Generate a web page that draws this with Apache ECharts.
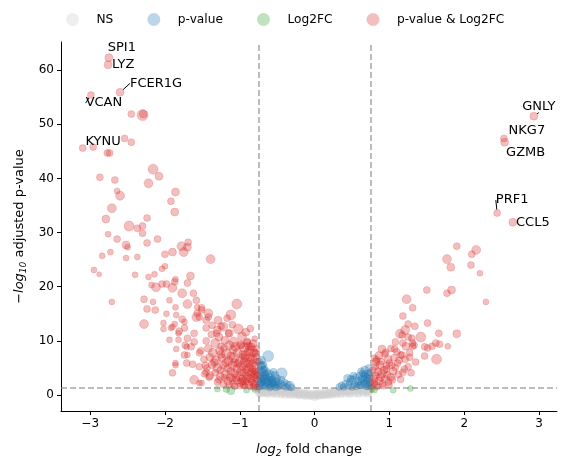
<!DOCTYPE html>
<html>
<head>
<meta charset="utf-8">
<script src="https://cdn.jsdelivr.net/npm/echarts@6/dist/echarts.min.js"></script>
<style>
  html, body { margin: 0; padding: 0; background: #fff; }
  #chart { width: 567px; height: 469px; }
</style>
</head>
<body>
<div id="chart"></div>
<script>
// each point: [log2 fold change, -log10 adjusted p-value, marker size]
var nsPoints = [
  [-0.74,0.9,8],[-0.72,0.5,8],[-0.70,1.1,8],[-0.68,0.7,8],[-0.66,1.2,8],[-0.64,0.4,8],[-0.62,0.9,8],[-0.60,1.2,8],
  [-0.58,0.6,8],[-0.56,1.0,8],[-0.54,0.4,8],[-0.52,0.8,8],[-0.50,1.2,8],[-0.48,0.5,8],[-0.46,0.9,8],[-0.44,0.3,8],
  [-0.42,0.7,8],[-0.40,1.1,8],[-0.38,0.4,8],[-0.36,0.8,8],[-0.34,0.2,8],[-0.32,0.6,8],[-0.30,1.0,8],[-0.28,0.3,8],
  [-0.26,0.6,8],[-0.24,0.2,8],[-0.22,0.5,8],[-0.20,0.1,8],[-0.18,0.4,8],[-0.15,0.2,8],[-0.12,0.0,8],[-0.10,0.3,8],
  [-0.07,0.1,8],[-0.04,-0.1,8],[-0.02,0.2,8],[0.01,0.0,8],[0.03,0.3,8],[0.06,0.1,8],[0.09,0.3,8],[0.12,0.1,8],
  [0.15,0.4,8],[0.18,0.2,8],[0.21,0.5,8],[0.24,0.3,8],[0.27,0.6,8],[0.30,0.4,8],[0.33,0.8,8],[0.36,0.5,8],
  [0.39,1.0,8],[0.42,0.6,8],[0.45,1.1,8],[0.48,0.7,8],[0.51,1.2,8],[0.54,0.8,8],[0.57,0.5,8],[0.60,1.0,8],
  [0.63,0.7,8],[0.66,1.2,8],[0.69,0.9,8],[0.72,0.6,8],[0.74,1.1,8],
  [-0.73,0.2,7],[-0.69,0.3,7],[-0.63,0.2,7],[-0.57,0.2,7],[-0.51,0.1,7],[-0.45,0.1,7],[-0.39,0.0,7],[-0.33,0.0,7],
  [-0.27,0.0,7],[-0.21,-0.1,7],[-0.14,-0.2,7],[-0.08,-0.2,7],[0.00,-0.3,8],[0.05,-0.2,7],[0.11,-0.1,7],[0.17,-0.1,7],
  [0.23,0.0,7],[0.29,0.1,7],[0.35,0.1,7],[0.41,0.2,7],[0.47,0.2,7],[0.53,0.3,7],[0.59,0.2,7],[0.65,0.3,7],[0.71,0.2,7],
  [-0.75,0.5,8],[-0.71,0.8,8],[-0.67,0.5,8],[-0.61,0.6,8],[-0.55,0.7,8],[-0.49,0.8,8],[-0.43,0.6,8],[-0.37,0.6,8],
  [-0.31,0.4,8],[-0.25,0.4,8],[-0.19,0.2,8],[-0.13,0.3,8],[-0.06,0.0,8],[0.02,0.1,8],[0.08,0.0,8],[0.14,0.2,8],
  [0.20,0.3,8],[0.26,0.4,8],[0.32,0.5,8],[0.38,0.7,8],[0.44,0.8,8],[0.50,0.9,8],[0.56,1.0,8],[0.62,0.9,8],
  [0.68,0.6,8],[0.73,0.8,8],[-0.58,0.9,8],[-0.46,1.2,8],[0.46,0.4,8],[0.58,1.2,8]
];

var pvalPoints = [
  [-0.74,1.5,7],[-0.73,2.2,8],[-0.72,3.0,8],[-0.74,3.8,8],[-0.73,4.6,7],[-0.72,5.4,8],[-0.74,6.2,7],[-0.71,5.4,9],
  [-0.62,7.2,11],[-0.70,1.8,8],[-0.69,2.7,8],[-0.68,3.5,8],[-0.70,4.2,8],[-0.67,4.8,7],[-0.66,1.6,7],[-0.65,2.3,8],
  [-0.64,3.1,8],[-0.66,3.8,7],[-0.62,1.9,8],[-0.61,2.7,8],[-0.60,3.4,7],[-0.63,4.3,7],[-0.58,1.6,7],[-0.57,2.3,8],
  [-0.56,3.0,7],[-0.59,3.8,8],[-0.54,1.8,7],[-0.52,2.5,8],[-0.50,3.1,7],[-0.53,3.6,8],[-0.48,1.6,7],[-0.46,2.1,8],
  [-0.44,4.0,11],[-0.44,2.8,7],[-0.42,1.7,7],[-0.40,2.3,7],[-0.38,1.5,7],[-0.36,2.0,7],[-0.33,1.7,9],[-0.31,1.4,7],
  [-0.75,2.6,7],[-0.68,5.6,7],[-0.71,6.4,8],[-0.55,4.3,7],[-0.49,2.4,7],[-0.60,1.4,7],[-0.52,1.4,7],
  [-0.73,1.8,8],[-0.71,2.4,8],[-0.70,3.3,8],[-0.69,4.6,8],[-0.67,3.0,8],[-0.65,4.1,7],[-0.63,2.5,8],[-0.60,2.1,8],
  [-0.58,2.9,7],[-0.55,2.2,7],[-0.51,1.9,7],
  [0.33,1.5,7],[0.36,1.8,7],[0.39,1.5,7],[0.41,2.1,7],[0.44,3.1,8],[0.45,1.7,7],[0.47,2.4,7],[0.50,1.5,7],
  [0.51,2.8,8],[0.53,2.0,7],[0.55,3.3,7],[0.56,1.6,7],[0.58,2.5,8],[0.60,3.6,7],[0.61,1.8,7],[0.63,2.9,8],
  [0.64,4.0,7],[0.66,2.2,7],[0.67,4.6,8],[0.68,3.4,8],[0.69,1.6,7],[0.70,2.6,7],[0.71,3.9,8],[0.72,1.9,7],
  [0.73,3.0,8],[0.74,2.3,7],[0.74,4.2,7],[0.72,5.0,7],[0.75,1.5,6],[0.52,3.6,7],[0.62,4.4,7],[0.48,3.0,7],
  [0.70,3.2,8],[0.68,2.1,8],[0.65,3.0,8],[0.62,2.4,7],[0.73,3.6,8],[0.71,1.6,7],[0.59,1.9,7],[0.66,3.8,7]
];

var fcPoints = [
  [-1.30,1.1,6],[-1.18,1.1,7],[-1.12,0.8,8],[-0.91,0.9,6],[-0.80,1.0,6],
  [0.77,1.1,6],[0.80,0.9,6],[1.05,0.9,6],[1.28,1.2,6]
];

var bothLeft = [
  [-2.45,51.9,7],[-2.30,51.7,11],[-2.29,51.9,8],
  [-3.10,45.6,7],[-2.54,47.4,7],[-2.45,46.7,7],[-2.77,44.7,7],[-2.74,44.7,7],
  [-2.16,41.7,10],[-2.08,40.4,8],[-2.87,40.2,7],[-2.67,39.7,7],[-2.22,39.1,9],[-1.86,37.5,8],[-2.64,37.7,6],
  [-2.60,36.8,9],[-1.92,35.8,7],[-1.87,33.8,8],[-2.71,34.5,9],[-2.79,32.5,8],[-2.24,32.7,7],[-2.48,31.2,10],
  [-2.37,30.8,7],[-2.30,31.2,7],[-2.30,29.9,7],[-2.76,29.7,6],[-2.64,28.8,7],[-2.24,28.1,7],[-2.10,28.8,7],
  [-2.52,27.7,8],[-2.50,27.3,6],[-1.69,28.2,7],[-1.78,27.5,9],[-1.70,27.3,8],[-1.75,26.4,9],[-1.90,26.4,8],
  [-2.00,26.0,7],[-1.39,25.1,9],[-2.73,26.4,6],[-2.84,25.7,6],[-2.52,25.3,6],[-2.37,25.5,6],[-2.95,23.1,6],
  [-2.88,22.3,5],[-2.40,22.2,6],[-2.22,21.8,6],[-2.14,22.3,6],[-2.00,23.8,6],[-2.04,23.3,6],[-1.86,21.4,6],
  [-1.66,22.0,8],
  [-2.71,17.2,6],[-1.04,16.8,10],[-2.28,13.1,9],[-2.28,17.7,7],[-2.24,15.9,7],[-2.13,15.7,7],[-2.18,20.3,6],
  [-2.12,19.9,9],[-2.04,20.5,7],[-1.98,20.5,7],[-1.87,20.9,7],[-1.90,19.8,9],[-1.77,18.8,9],[-1.70,20.7,7],
  [-1.62,18.8,7],[-1.94,17.5,6],[-2.16,17.2,6],[-1.86,16.2,6],[-1.70,16.8,9],[-1.98,15.0,6],[-1.85,14.8,6],
  [-1.58,17.5,7],[-1.57,16.2,6],[-1.57,15.1,7],[-1.51,16.1,7],[-1.42,15.1,9],[-1.77,14.0,7],[-1.74,13.5,6],
  [-1.58,14.4,9],[-1.45,13.8,7],[-2.02,13.3,6],[-2.02,12.2,6],[-1.92,12.4,6],[-1.87,13.1,6],[-1.81,11.8,7],
  [-1.94,10.2,6],[-1.82,10.2,6],[-1.70,10.5,7],[-1.85,8.5,6],[-1.73,9.2,7],[-1.61,11.4,7],[-1.65,8.9,7],
  [-1.70,7.4,6],[-1.86,5.5,6],[-1.63,5.7,7],[-1.90,4.1,7],[-1.61,2.8,9],[-1.54,2.2,6],[-1.51,2.2,6],
  [-1.47,3.9,7],[-1.54,5.2,7],
  [-1.90,12.6,6],[-1.74,12.4,7],[-1.82,11.4,6],[-1.61,9.8,7],[-1.71,8.9,6],[-1.74,7.4,7],[-1.86,5.9,6],
  [-1.71,5.9,7],[-1.54,7.8,7],[-1.46,5.5,7],[-1.45,4.2,7],[-1.41,3.3,7],
  [-1.51,15.7,7],[-1.54,14.4,7],[-1.42,14.4,7],[-1.29,13.8,8],[-1.17,14.2,7],[-1.12,14.8,10],[-1.25,12.7,7],
  [-1.14,11.4,8],[-1.37,12.9,7],[-1.45,12.4,7],[-1.31,11.4,7],[-0.84,8.1,11],[-0.90,9.6,8],[-0.98,9.2,7],
  [-1.30,12.0,8],[-1.22,12.6,9],[-1.10,13.0,7],[-1.02,12.2,10],[-0.92,11.6,8],[-0.86,12.3,7],[-1.15,11.4,7],
  [-0.97,10.8,9],[-1.38,11.2,7],[-1.28,10.7,8],
  [-1.45,10.0,7],[-1.33,9.6,9],[-1.20,10.1,8],[-1.08,9.8,10],[-0.99,9.3,8],[-0.90,9.9,7],[-0.82,9.5,8],
  [-0.80,10.4,6],[-1.25,9.0,7],[-1.14,9.2,9],[-0.94,8.8,10],
  [-1.52,8.2,7],[-1.42,8.6,8],[-1.36,7.8,9],[-1.27,8.2,8],[-1.18,7.6,10],[-1.09,8.4,8],[-1.03,7.8,9],
  [-0.96,7.5,8],[-0.88,8.1,9],[-0.81,7.7,8],[-0.78,8.6,7],[-1.21,8.7,7],[-0.85,8.9,8],
  [-1.48,6.6,7],[-1.40,7.0,8],[-1.32,6.4,9],[-1.24,6.9,8],[-1.15,6.3,9],[-1.08,6.9,10],[-1.00,6.2,9],
  [-0.93,6.8,8],[-0.87,6.1,9],[-0.82,6.6,8],[-0.78,7.1,7],[-1.12,7.2,8],[-0.96,7.1,7],
  [-1.44,5.0,7],[-1.37,5.6,8],[-1.30,5.0,9],[-1.22,5.5,8],[-1.16,4.9,8],[-1.10,5.5,9],[-1.04,4.8,8],
  [-0.98,5.3,9],[-0.92,4.7,8],[-0.87,5.2,8],[-0.83,4.8,7],[-0.79,5.4,8],[-1.26,4.6,7],[-1.07,6.0,8],[-0.90,5.8,8],
  [-1.40,3.6,8],[-1.33,4.1,7],[-1.26,3.4,8],[-1.19,3.9,9],[-1.13,3.3,8],[-1.07,4.0,8],[-1.01,3.5,9],
  [-0.95,4.1,8],[-0.90,3.4,8],[-0.85,3.9,8],[-0.81,3.3,7],[-0.78,4.2,7],[-0.96,3.0,8],[-1.10,3.0,7],
  [-1.30,2.4,7],[-1.22,2.0,7],[-1.16,2.6,8],[-1.09,2.1,7],[-1.04,2.7,8],[-0.99,2.2,8],[-0.93,2.5,8],
  [-0.88,1.9,8],[-0.84,2.6,7],[-0.80,2.0,7],[-0.78,2.9,7],[-0.86,1.5,6],[-0.82,1.6,6],[-0.93,1.6,6],
  [-1.00,1.7,6],[-0.77,1.5,6],
  [-0.98,4.4,9],[-0.94,5.9,9],[-0.89,4.4,9],[-0.86,3.0,8],[-0.83,5.8,8],[-0.80,3.8,8],[-0.77,6.2,7],
  [-0.79,7.8,7],[-0.92,7.4,9],[-1.02,5.8,8],[-1.05,3.2,8],[-0.97,2.6,8],[-0.91,2.9,8],[-0.86,6.9,8],
  [-0.84,4.3,8],[-0.80,4.4,7],[-0.77,3.6,7],[-0.88,9.0,8],[-1.12,4.4,8],[-1.19,5.9,8],[-1.34,6.0,8],
  [-1.25,7.5,8],[-1.06,8.9,9],[-0.83,2.3,7],[-0.80,1.4,6],[-0.95,1.9,7],[-1.07,1.6,7],[-1.14,1.9,7],
  [-1.20,3.2,7],[-1.28,2.8,7]
];

var bothRight = [
  [1.90,27.5,7],[2.16,26.8,9],[2.10,26.0,7],[1.77,25.1,9],[2.09,24.0,7],[1.82,23.6,8],[2.21,22.5,6],
  [1.50,19.4,7],[1.77,18.8,7],[1.83,19.4,8],[2.29,17.2,6],[1.23,17.7,9],[1.31,16.1,7],[1.18,14.6,7],
  [1.51,13.3,7],[1.34,12.7,7],[1.25,13.1,7],[1.21,12.0,9],[1.14,11.3,9],[1.66,11.4,7],[1.90,11.3,8],
  [1.42,10.7,10],[1.30,10.5,7],[1.08,9.8,7],[1.18,9.6,7],[1.31,9.6,7],[1.62,9.6,7],[1.57,9.0,7],
  [1.67,9.4,7],[1.78,9.0,6],[1.47,8.9,7],[1.51,8.7,7],[1.31,9.0,7],[0.90,8.5,8],[1.07,8.5,7],[0.94,7.6,7],
  [1.47,7.2,7],[1.63,6.6,10],[1.21,6.6,7],[1.35,6.1,7],[1.17,7.4,7],[1.27,7.0,7],[1.25,5.2,7],[1.03,5.5,7],
  [0.82,6.1,8],[1.18,4.2,7],[1.29,4.1,7],[1.04,2.8,7],
  [1.17,11.1,7],[1.25,10.7,7],[1.33,9.2,7],[1.27,7.8,7],[1.15,7.4,7],[0.83,6.5,7],[1.00,5.9,7],[1.11,5.9,7],
  [0.96,4.8,7],
  [0.78,1.6,6],[0.80,2.2,7],[0.83,1.8,7],[0.86,2.6,8],[0.79,3.0,8],[0.82,3.6,7],[0.88,3.3,8],[0.91,2.1,7],
  [0.94,2.9,8],[0.97,3.7,7],[0.85,4.3,8],[0.78,4.6,7],[0.90,4.0,9],[0.99,2.4,7],[1.02,3.3,8],[0.93,4.6,8],
  [0.81,5.2,7],[0.87,5.6,8],[0.96,5.4,7],[1.05,4.4,8],[1.08,5.1,7],[1.12,3.8,7],[0.84,1.5,6],[0.77,2.5,6],
  [0.92,1.6,6],[1.00,1.8,6],[0.89,6.2,7],[0.80,6.8,7],[0.98,6.6,8],[1.06,6.9,7],[1.13,6.4,7],[1.20,4.8,7],
  [1.15,2.9,7],[0.95,7.9,7],[1.02,8.6,7],[0.86,7.3,8],[1.10,8.0,7],[1.22,9.0,8]
];

// labelled genes
var geneNames = ['SPI1', 'LYZ', 'FCER1G', 'VCAN', 'KYNU', 'GNLY', 'NKG7', 'GZMB', 'PRF1', 'CCL5'];
var geneX = [-2.75, -2.76, -2.60, -2.99, -2.96, 2.93, 2.53, 2.54, 2.44, 2.65];
var geneY = [62.3, 61.0, 55.9, 55.4, 45.8, 51.5, 47.4, 46.7, 33.6, 31.9];
var geneSize = [8, 8, 8, 7, 7, 8, 7, 8, 7, 8];

var xTicks = [-3, -2, -1, 0, 1, 2, 3];
var yTicks = [0, 10, 20, 30, 40, 50, 60];
var fcCut = 0.75;
var pCut = 1.3;

// label offsets from the point in px, and whether a leader line shows
var labelShift = [[13, -10], [15, 0], [36, -9], [13, 8], [10, -5], [5, -10], [23, -8], [21, 10], [15, -13], [20, 0]];
var leader = [false, false, true, true, false, true, false, false, true, false];

var font = 'DejaVu Sans';
var chart = echarts.init(document.getElementById('chart'), null, { renderer: 'canvas' });

function dotSeries(name, data, rgb, alpha) {
  var c = 'rgba(' + rgb + ',' + alpha + ')';
  return {
    name: name,
    type: 'scatter',
    data: data,
    symbolSize: function(d) { return d[2] },
    itemStyle: { color: c, borderColor: c, borderWidth: 0.6, opacity: 1 },
    emphasis: { disabled: true }
  }
}

var minus = function(v) { return String(v).replace('-', '\u2212') };

var option = {
  animation: false,
  textStyle: { fontFamily: font },
  legend: {
    data: ['NS', 'p-value', 'Log2FC', 'p-value & Log2FC'],
    left: 61,
    top: 8,
    icon: 'circle',
    itemWidth: 38,
    itemHeight: 13,
    itemGap: 34,
    itemStyle: { borderWidth: 0 },
    textStyle: { fontSize: 12.2, color: '#000', fontFamily: font }
  },
  grid: { left: 61, right: 10, top: 42, bottom: 58 },
  xAxis: {
    type: 'value',
    min: -3.39,
    max: 3.24,
    name: '{i|log}{s|2} fold change',
    nameLocation: 'middle',
    nameGap: 31,
    nameTextStyle: {
      fontSize: 13, color: '#000', fontFamily: font,
      rich: {
        i: { fontSize: 13, fontStyle: 'italic', fontFamily: font },
        s: { fontSize: 9, fontStyle: 'italic', fontFamily: font, padding: [7, 0, 0, 0] }
      }
    },
    splitLine: { show: false },
    axisLine: { show: true, onZero: false, lineStyle: { color: '#000', width: 1 } },
    axisTick: { show: true, length: 4, customValues: xTicks, lineStyle: { color: '#000' } },
    axisLabel: { customValues: xTicks, fontSize: 12, color: '#000', margin: 7, formatter: minus }
  },
  yAxis: {
    type: 'value',
    min: -2.95,
    max: 65.2,
    name: '\u2212{i|log}{s|10} adjusted p-value',
    nameLocation: 'middle',
    nameGap: 33,
    nameTextStyle: {
      fontSize: 13, color: '#000', fontFamily: font,
      rich: {
        i: { fontSize: 13, fontStyle: 'italic', fontFamily: font },
        s: { fontSize: 9, fontStyle: 'italic', fontFamily: font, padding: [7, 0, 0, 0] }
      }
    },
    splitLine: { show: false },
    axisLine: { show: true, onZero: false, lineStyle: { color: '#000', width: 1 } },
    axisTick: { show: true, length: 4, customValues: yTicks, lineStyle: { color: '#000' } },
    axisLabel: { customValues: yTicks, fontSize: 12, color: '#000', margin: 7 }
  },
  series: [
    Object.assign(dotSeries('NS', nsPoints, '205,205,205', 0.35), {
      markLine: {
        silent: true,
        symbol: 'none',
        label: { show: false },
        lineStyle: { color: 'rgba(128,128,128,0.7)', width: 1.5, type: [6, 3] },
        data: [{ xAxis: -fcCut }, { xAxis: fcCut }, { yAxis: pCut }]
      }
    }),
    dotSeries('p-value', pvalPoints, '31,119,180', 0.3),
    dotSeries('Log2FC', fcPoints, '44,160,44', 0.3),
    dotSeries('p-value & Log2FC', bothLeft.concat(bothRight), '214,39,40', 0.3),
    Object.assign(dotSeries('genes', geneNames.map(function(n, i) {
      return {
        name: n,
        value: [geneX[i], geneY[i], geneSize[i]],
        labelLine: { show: leader[i] }
      }
    }), '214,39,40', 0.3), {
      label: {
        show: true,
        position: 'inside',
        formatter: '{b}',
        color: '#000',
        fontSize: 13,
        fontFamily: font
      },
      labelLayout: function(p) {
        return { dx: labelShift[p.dataIndex][0], dy: labelShift[p.dataIndex][1] }
      },
      labelLine: { show: true, lineStyle: { color: '#000', width: 1 } }
    })
  ]
}

chart.setOption(option)
</script>
</body>
</html>
